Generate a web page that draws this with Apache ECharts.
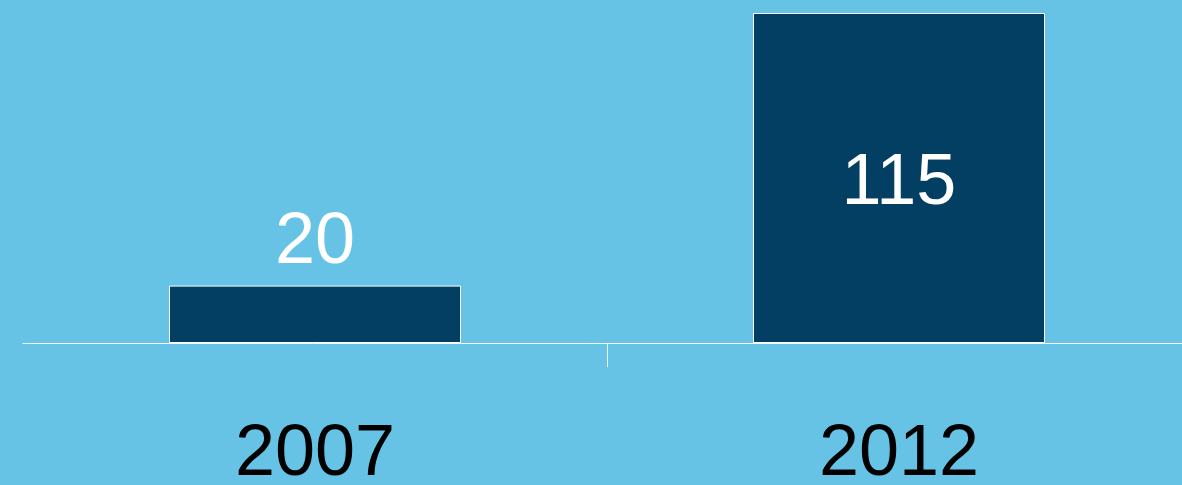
<!DOCTYPE html>
<html>
<head>
    <meta charset="UTF-8">
    <title>2007 vs 2012</title>
    <script src="https://cdn.jsdelivr.net/npm/echarts@6/dist/echarts.min.js"></script>
    <style>
        html, body { margin: 0; padding: 0; background: #67c3e5; }
        #chart { width: 1182px; height: 485px; }
    </style>
</head>
<body>
    <div id="chart"></div>
    <script>
        // data
        const years = ['2007', '2012'];
        const counts = [20, 115];
        const dividerTicks = [1];   // one divider between the two years

        const chart = echarts.init(document.getElementById('chart'));
        const font = '"Liberation Sans", Arial, sans-serif';
        const lineColor = '#f2f8fb';

        chart.setOption({
            backgroundColor: '#67c3e5',
            animation: false,
            grid: { left: 23, right: -9, top: 13, bottom: 142, containLabel: false, outerBoundsMode: 'none' },
            xAxis: [{
                type: 'category',
                data: years,
                axisLine: { lineStyle: { color: lineColor, width: 1 } },
                axisTick: { show: false },
                axisLabel: { color: '#000', fontSize: 72, fontFamily: font, margin: 76 }
            }, {
                // helper axis only for the middle divider tick
                type: 'value',
                position: 'bottom',
                min: 0,
                max: years.length,
                axisLine: { show: false },
                splitLine: { show: false },
                axisLabel: { show: false },
                axisTick: { show: true, length: 24, customValues: dividerTicks, lineStyle: { color: lineColor, width: 1 } }
            }],
            yAxis: { type: 'value', min: 0, max: 115, show: false },
            series: [{
                type: 'bar',
                data: counts.map((v, i) => ({
                    value: v,
                    label: i === 0 ? { position: 'top', distance: 6 } : { position: 'inside', offset: [0, 6] }
                })),
                barWidth: '50%',
                itemStyle: { color: '#033f63', borderColor: '#ffffff', borderWidth: 1 },
                label: { show: true, color: '#fff', fontSize: 72, fontFamily: font }
            }]
        });
    </script>
</body>
</html>
